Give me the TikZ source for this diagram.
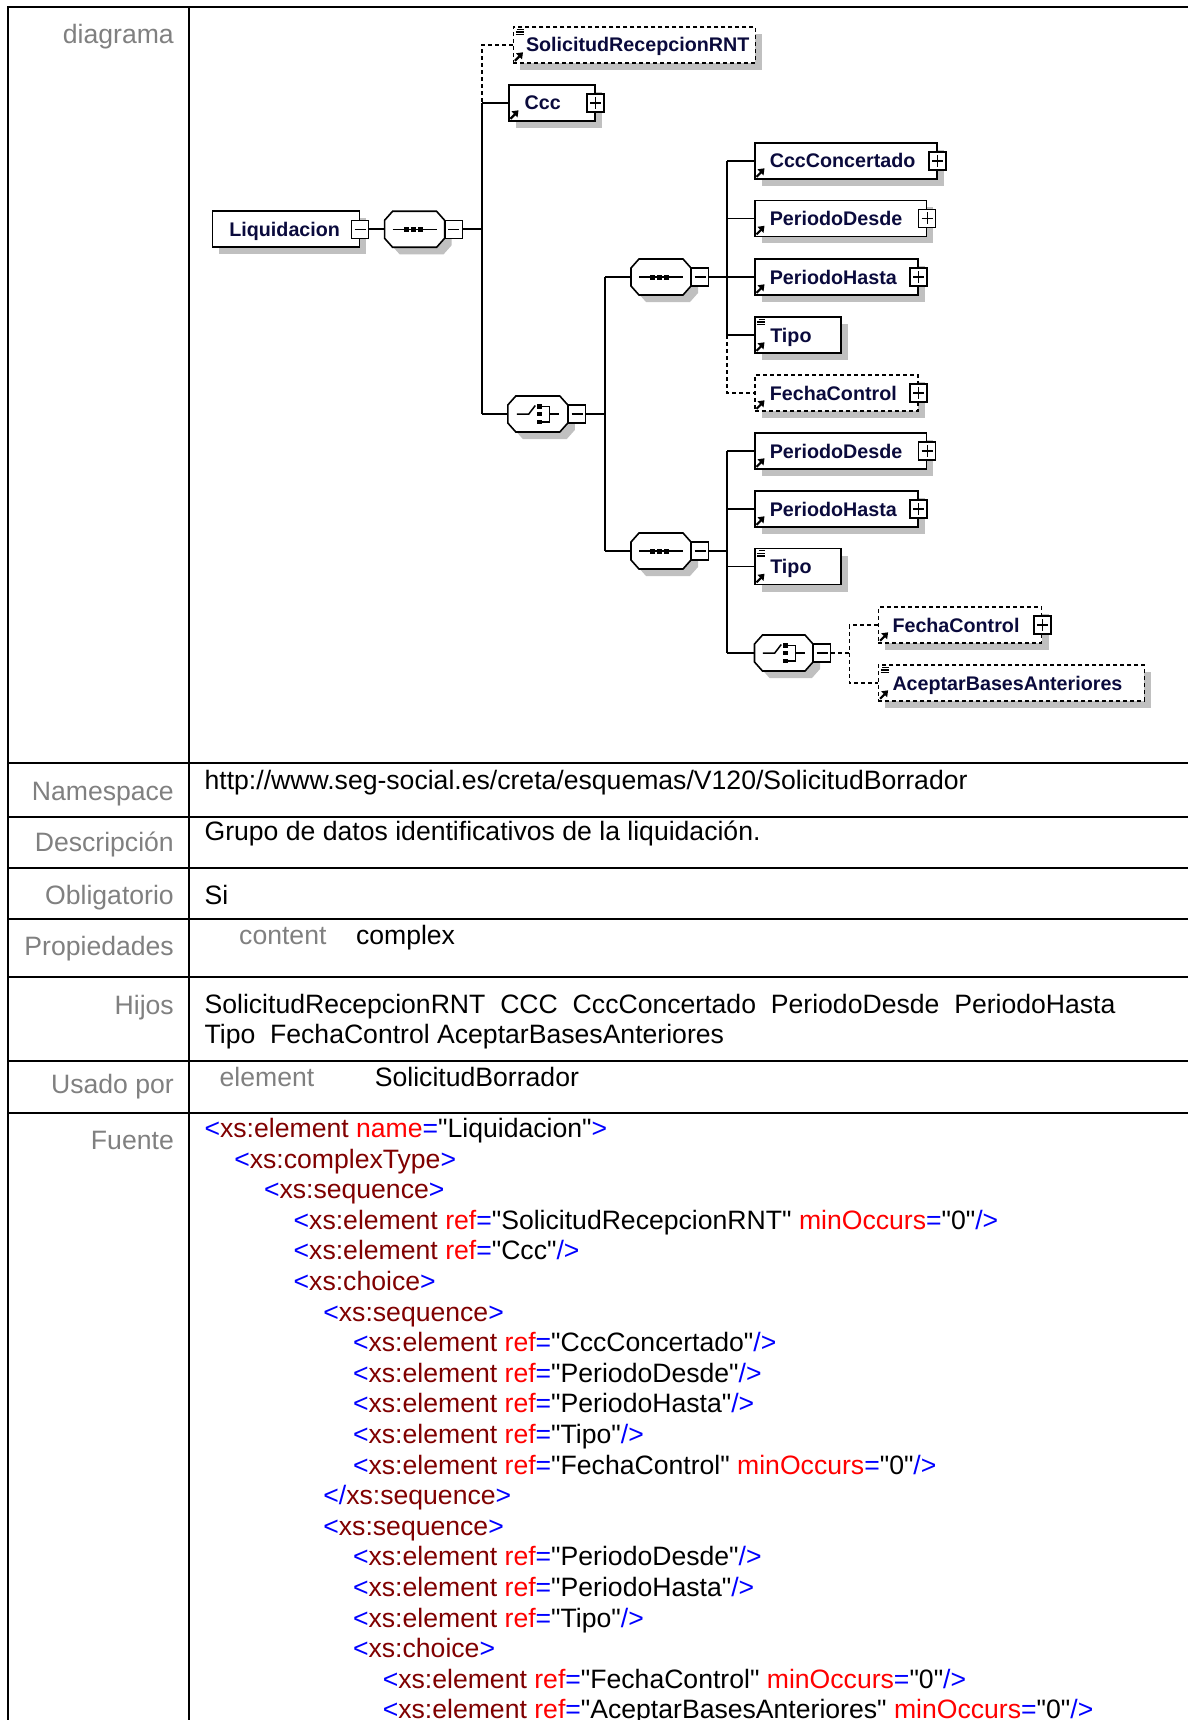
\documentclass[tikz,border=0pt]{standalone}
\usepackage{fontspec}
\setmainfont{Liberation Sans}
\usetikzlibrary{shadows}
\definecolor{navy}{RGB}{10,10,60}
\definecolor{lbl}{RGB}{128,128,128}
\definecolor{shd}{RGB}{192,192,192}
\definecolor{xblue}{RGB}{0,0,255}
\definecolor{xmaroon}{RGB}{128,0,0}
\definecolor{xred}{RGB}{255,0,0}
\newcommand\cB[1]{\textcolor{xblue}{#1}}
\newcommand\cM[1]{\textcolor{xmaroon}{#1}}
\newcommand\cR[1]{\textcolor{xred}{#1}}
\newcommand\qq{\textquotedbl}
\newcommand\xelref[1]{\cB{<}\cM{xs:element} \cR{ref}\cB{=}\qq#1\qq\cB{/>}}
\newcommand\xelrefo[1]{\cB{<}\cM{xs:element} \cR{ref}\cB{=}\qq#1\qq{} \cR{minOccurs}\cB{=}\qq0\qq\cB{/>}}
\newcommand\xopen[1]{\cB{<}\cM{#1}\cB{>}}
\newcommand\xclose[1]{\cB{</}\cM{#1}\cB{>}}
% element node: name, style, x, y, width, text offset, text
\newcommand\elnode[7]{\node[#2] (#1) at (#3,#4) {\makebox[#5pt][l]{\hspace{#6pt}\rule[-5pt]{0pt}{24pt}#7}};}
\newcommand\refarr[1]{%
  \draw[line width=2.2pt] ([shift={(2.5,-3)}]#1.south west) -- ([shift={(7,-7.5)}]#1.south west);
  \fill ([shift={(10.5,-11.5)}]#1.south west) -- ([shift={(3.5,-10.5)}]#1.south west) -- ([shift={(9.5,-4.5)}]#1.south west) -- cycle;}
\newcommand\lsticon[1]{%
  \foreach \dy/\xa in {3/4.5,5.7/3,8.4/3}
    \draw[line width=1.3pt] ([shift={(\xa,\dy)}]#1.north west) -- ([shift={(11,\dy)}]#1.north west);}
\newcommand\octpath[3]{([shift={(8+#2,#3)}]#1.north west) -- ([shift={(-8+#2,#3)}]#1.north east) -- ([shift={(#2,9+#3)}]#1.north east) -- ([shift={(#2,-9+#3)}]#1.south east) -- ([shift={(-8+#2,#3)}]#1.south east) -- ([shift={(8+#2,#3)}]#1.south west) -- ([shift={(#2,-9+#3)}]#1.south west) -- ([shift={(#2,9+#3)}]#1.north west) -- cycle}
\newcommand\octa[1]{%
  \fill[shd] \octpath{#1}{7}{7};
  \draw[line width=1.6pt, fill=white] \octpath{#1}{0}{0};}
\newcommand\seqicon[1]{%
  \begin{scope}[shift={(#1.center)}]
    \draw[line width=1.5pt] (-22,0) -- (22,0);
    \fill (-11,-2.5) rectangle (-6,2.5);
    \fill (-4,-2.5) rectangle (1,2.5);
    \fill (3,-2.5) rectangle (8,2.5);
  \end{scope}}
\newcommand\choiceicon[1]{%
  \begin{scope}[shift={(#1.center)}]
    \draw[line width=1.5pt] (-21,0) -- (-9,0) -- (-2.5,-8.5);
    \fill (-0.5,-10) rectangle (4,-5.5);
    \fill (-0.5,-2.25) rectangle (4,2.25);
    \fill (-0.5,5.5) rectangle (4,10);
    \draw[line width=1.5pt] (4,-7.75) -- (11.5,-7.75) -- (11.5,7.75) -- (4,7.75);
    \draw[line width=1.5pt] (11.5,0) -- (21.5,0);
  \end{scope}}
\begin{document}
\begin{tikzpicture}[x=1pt,y=-1pt,
  tbl/.style={line width=2pt},
  big/.style={font=\fontsize{26.6}{30.6}\selectfont},
  lab/.style={big, anchor=base east, inner sep=0pt, text=lbl},
  val/.style={big, anchor=base west, inner sep=0pt},
  conn/.style={line width=1.6pt},
  optc/.style={conn, dash pattern=on 4pt off 3pt},
  shad/.style={drop shadow={shadow xshift=7pt,shadow yshift=-7pt,fill=shd,opacity=1}},
  elem/.style={draw, line width=1.6pt, fill=white, minimum height=36pt, inner sep=0pt,
    anchor=west, font=\fontsize{19.7}{20}\selectfont\bfseries, text=navy, shad},
  optel/.style={elem, dash pattern=on 4pt off 3pt},
  comp/.style={rectangle, inner sep=0pt, outer sep=0pt, minimum width=60pt, minimum height=36pt, anchor=west},
  pmbox/.style={draw, fill=white, line width=1.4pt, minimum width=17pt, minimum height=18pt, inner sep=0pt},
  minus/.style={pmbox, path picture={\draw[line width=1.4pt]
      ([xshift=3pt]path picture bounding box.west) -- ([xshift=-3pt]path picture bounding box.east);}},
  plus/.style={pmbox, path picture={\draw[line width=1.4pt]
      ([xshift=3pt]path picture bounding box.west) -- ([xshift=-3pt]path picture bounding box.east);
      \draw[line width=1.4pt]
      ([yshift=-3pt]path picture bounding box.north) -- ([yshift=3pt]path picture bounding box.south);}},
]
\useasboundingbox (0,0) rectangle (1187,1720);
\fill[white] (0,0) rectangle (1187,1720);

% ---------- table ----------
\draw[tbl] (8,1721) -- (8,7) -- (1188,7);
\draw[tbl] (189,7) -- (189,1721);
\foreach \yy in {763,817,868,919,977,1061,1113}
  \draw[tbl] (8,\yy) -- (1188,\yy);

% ---------- labels ----------
\node[lab] (ldiag) at (174,43.5) {diagrama};
\node[lab] (lns) at (174,800.5) {Namespace};
\node[lab] (ldesc) at (174,851.5) {Descripción};
\node[lab] (lobl) at (174,904) {Obligatorio};
\node[lab] (lprop) at (174,955.5) {Propiedades};
\node[lab] (lhij) at (174,1014) {Hijos};
\node[lab] (luso) at (174,1093) {Usado por};
\node[lab] (lfue) at (174,1149) {Fuente};

% ---------- values ----------
\node[val] (vns) at (204.4,789) {http://www.seg-social.es/creta/esquemas/V120/SolicitudBorrador};
\node[val] (vdesc) at (204.4,840.5) {Grupo de datos identificativos de la liquidación.};
\node[val] (vobl) at (204.4,904) {Si};
\node[val, text=lbl] (vcont) at (239,944) {content};
\node[val] (vcomp) at (355.8,944) {complex};
\node[val] (vhij1) at (204.4,1013.4) {\makebox[911pt][s]{SolicitudRecepcionRNT\ \ CCC\ \ CccConcertado\ \ PeriodoDesde\ \ PeriodoHasta}};
\node[val] (vhij2) at (204.4,1043.4) {Tipo\ \ FechaControl AceptarBasesAnteriores};
\node[val, text=lbl] (vel) at (219.5,1086) {element};
\node[val] (vsb) at (374.7,1086) {SolicitudBorrador};

% ---------- source code ----------
\node[val] (c1) at (204.4,1137.5) {\cB{<}\cM{xs:element} \cR{name}\cB{=}\qq Liquidacion\qq\cB{>}};
\node[val] (c2) at (234.1,1168.1) {\xopen{xs:complexType}};
\node[val] (c3) at (263.8,1198.7) {\xopen{xs:sequence}};
\node[val] (c4) at (293.5,1229.3) {\xelrefo{SolicitudRecepcionRNT}};
\node[val] (c5) at (293.5,1259.9) {\xelref{Ccc}};
\node[val] (c6) at (293.5,1290.5) {\xopen{xs:choice}};
\node[val] (c7) at (323.2,1321.1) {\xopen{xs:sequence}};
\node[val] (c8) at (352.9,1351.7) {\xelref{CccConcertado}};
\node[val] (c9) at (352.9,1382.3) {\xelref{PeriodoDesde}};
\node[val] (c10) at (352.9,1412.9) {\xelref{PeriodoHasta}};
\node[val] (c11) at (352.9,1443.5) {\xelref{Tipo}};
\node[val] (c12) at (352.9,1474.1) {\xelrefo{FechaControl}};
\node[val] (c13) at (323.2,1504.7) {\xclose{xs:sequence}};
\node[val] (c14) at (323.2,1535.3) {\xopen{xs:sequence}};
\node[val] (c15) at (352.9,1565.9) {\xelref{PeriodoDesde}};
\node[val] (c16) at (352.9,1596.5) {\xelref{PeriodoHasta}};
\node[val] (c17) at (352.9,1627.1) {\xelref{Tipo}};
\node[val] (c18) at (352.9,1657.7) {\xopen{xs:choice}};
\node[val] (c19) at (382.6,1688.3) {\xelrefo{FechaControl}};
\node[val] (c20) at (382.6,1718.9) {\xelrefo{AceptarBasesAnteriores}};

% ---------- diagram: trunk coordinates ----------
\coordinate (t1) at (482,0);
\coordinate (t2) at (605,0);
\coordinate (t3) at (727,0);
\coordinate (t4) at (849.4,0);

% ---------- diagram: nodes ----------
\elnode{liq}{elem}{211.6}{229.3}{147}{17}{Liquidacion}
\node[minus] (liqm) at (liq.east) {};
\node[comp] (seq0) at (384.6,229.3) {};
\octa{seq0}
\node[minus, anchor=west] (seq0m) at (seq0.east) {};
\seqicon{seq0}

\elnode{srnt}{optel}{512.5}{45}{242}{12.7}{SolicitudRecepcionRNT}
\elnode{ccc}{elem}{508}{103}{86}{15.8}{Ccc}
\node[plus] (cccp) at (ccc.east) {};

\node[comp] (ch1) at (507.8,414) {};
\octa{ch1}
\node[minus, anchor=west] (ch1m) at (ch1.east) {};
\choiceicon{ch1}

\node[comp] (seq1) at (631,277) {};
\octa{seq1}
\node[minus, anchor=west] (seq1m) at (seq1.east) {};
\seqicon{seq1}

\elnode{cccc}{elem}{754}{161}{182}{15}{CccConcertado}
\node[plus] (ccccp) at (cccc.east) {};
\elnode{pd1}{elem}{754}{218.5}{171.6}{15}{PeriodoDesde}
\node[plus] (pd1p) at (pd1.east) {};
\elnode{ph1}{elem}{754}{277}{163}{15}{PeriodoHasta}
\node[plus] (ph1p) at (ph1.east) {};
\elnode{tipo1}{elem}{754}{335}{86}{15.5}{Tipo}
\elnode{fc1}{optel}{754}{393}{163}{15}{FechaControl}
\node[plus] (fc1p) at (fc1.east) {};

\node[comp] (seq2) at (631,551) {};
\octa{seq2}
\node[minus, anchor=west] (seq2m) at (seq2.east) {};
\seqicon{seq2}

\elnode{pd2}{elem}{754}{451}{171.6}{15}{PeriodoDesde}
\node[plus] (pd2p) at (pd2.east) {};
\elnode{ph2}{elem}{754}{509}{163}{15}{PeriodoHasta}
\node[plus] (ph2p) at (ph2.east) {};
\elnode{tipo2}{elem}{754}{566.5}{86}{15.5}{Tipo}

\node[comp, minimum width=58.5pt] (ch2) at (754.5,653) {};
\octa{ch2}
\node[minus, anchor=west] (ch2m) at (ch2.east) {};
\choiceicon{ch2}

\elnode{fc2}{optel}{877.6}{625}{163.1}{14.1}{FechaControl}
\node[plus] (fc2p) at (fc2.east) {};
\elnode{aba}{optel}{877.6}{683}{266}{14.1}{AceptarBasesAnteriores}

% icons
\foreach \n in {srnt,ccc,cccc,pd1,ph1,tipo1,fc1,pd2,ph2,tipo2,fc2,aba} {\refarr{\n}}
\foreach \n in {srnt,tipo1,tipo2,aba} {\lsticon{\n}}

% ---------- diagram: connectors ----------
\draw[conn] (liqm.east) -- (seq0.west);
\draw[conn] (seq0m.east) -- (seq0m.east -| t1);
\draw[optc] (srnt.west) -- (srnt.west -| t1) -- (ccc.west -| t1);
\draw[conn] (ccc.west -| t1) -- (ch1.west -| t1);
\draw[conn] (ccc.west -| t1) -- (ccc.west);
\draw[conn] (ch1.west -| t1) -- (ch1.west);

\draw[conn] (ch1m.east) -- (ch1m.east -| t2);
\draw[conn] (seq1.west -| t2) -- (seq2.west -| t2);
\draw[conn] (seq1.west -| t2) -- (seq1.west);
\draw[conn] (seq2.west -| t2) -- (seq2.west);

\draw[conn] (seq1m.east) -- (seq1m.east -| t3);
\draw[conn] (cccc.west -| t3) -- (tipo1.west -| t3);
\draw[optc] (tipo1.west -| t3) -- (fc1.west -| t3) -- (fc1.west);
\foreach \n in {cccc,pd1,ph1,tipo1} \draw[conn] (\n.west -| t3) -- (\n.west);

\draw[conn] (seq2m.east) -- (seq2m.east -| t3);
\draw[conn] (pd2.west -| t3) -- (ch2.west -| t3);
\foreach \n in {pd2,ph2,tipo2,ch2} \draw[conn] (\n.west -| t3) -- (\n.west);

\draw[optc] (ch2m.east) -- (ch2m.east -| t4);
\draw[optc] (fc2.west) -- (fc2.west -| t4) -- (aba.west -| t4) -- (aba.west);
\end{tikzpicture}
\end{document}
